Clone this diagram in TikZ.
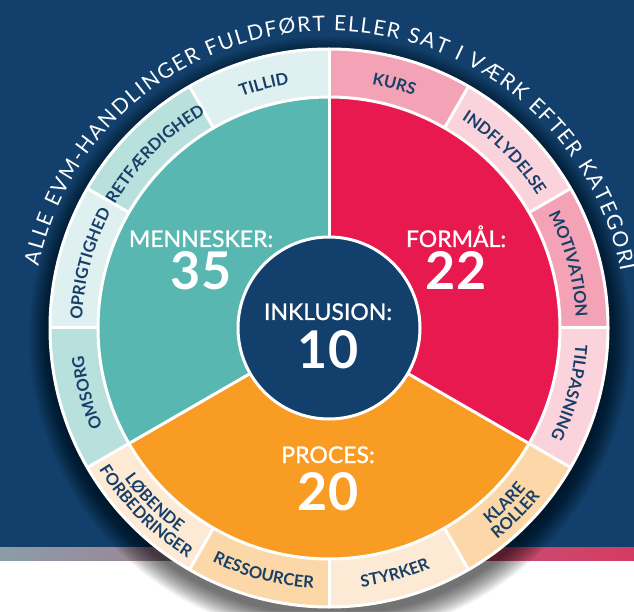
\documentclass[tikz,border=0pt]{standalone}
\usepackage{fontspec}
\setmainfont{Lato}
\newfontfamily\latomed[FakeBold=1]{Lato}
\usetikzlibrary{decorations.text,calc}
\definecolor{navy}{HTML}{123F6B}
\definecolor{barL}{HTML}{8A9DA7}
\definecolor{barR}{HTML}{D63A62}
\definecolor{tealM}{HTML}{58B7B1}
\definecolor{redM}{HTML}{E8194F}
\definecolor{orgM}{HTML}{F89C24}
\definecolor{tlA}{HTML}{DEF0EF}
\definecolor{tlB}{HTML}{B8E1DE}
\definecolor{pkA}{HTML}{F4A3B7}
\definecolor{pkB}{HTML}{FBD3DD}
\definecolor{pcA}{HTML}{FDEAD4}
\definecolor{pcB}{HTML}{FCD8A8}
\definecolor{lbl}{HTML}{173F68}
\newcommand\ringfont{\fontsize{16.5}{19}\selectfont\bfseries}
\newcommand\titlefont{\fontsize{21}{24}\selectfont}
\newcommand\ringcw[3]{\path[decorate,decoration={text along path,text={|\ringfont|#3},text align=center,text color=lbl}] ($(C)+({#1+25}:#2pt)$) arc[start angle={#1+25},end angle={#1-25},radius=#2pt];}
\newcommand\ringccw[3]{\path[decorate,decoration={text along path,text={|\ringfont|#3},text align=center,text color=lbl}] ($(C)+({#1-25}:#2pt)$) arc[start angle={#1-25},end angle={#1+25},radius=#2pt];}
\tikzset{
  cat/.style={text=white,anchor=base,inner sep=0pt,font=\latomed\fontsize{23}{26}\selectfont},
  num/.style={text=white,anchor=base,inner sep=0pt,font=\fontsize{52}{56}\selectfont\bfseries},
  sep/.style={white,line width=3pt}
}
\begin{document}
\begin{tikzpicture}[x=1pt,y=1pt]
\useasboundingbox (0,0) rectangle (634,611);
\fill[white] (0,0) rectangle (634,611);
\fill[navy] (0,64) rectangle (634,611);
\shade[left color=barL,right color=barR] (0,51) rectangle (634,64);
\coordinate (C) at (329,283);
% shadow
\foreach \i in {0,...,22}
  \fill[black,opacity=0.03] ($(C)+(1pt,-9pt)$) circle[radius={(279+\i)*1pt}];
% ring sectors
\foreach \a/\c in {90/tlA,120/tlB,150/tlA,180/tlB,60/pkA,30/pkB,0/pkA,-30/pkB,210/pcA,240/pcB,270/pcA,300/pcB}
  \fill[\c] (C) -- ($(C)+(\a:279pt)$) arc[start angle=\a,delta angle=30,radius=279pt] -- cycle;
% inner sectors
\fill[tealM] (C) -- ($(C)+(90:231pt)$) arc[start angle=90,end angle=210,radius=231pt] -- cycle;
\fill[redM] (C) -- ($(C)+(-30:231pt)$) arc[start angle=-30,end angle=90,radius=231pt] -- cycle;
\fill[orgM] (C) -- ($(C)+(210:231pt)$) arc[start angle=210,end angle=330,radius=231pt] -- cycle;
\fill[navy] (C) circle[radius=91pt];
% separators
\foreach \a in {0,30,...,330}
  \draw[sep] ($(C)+(\a:231pt)$) -- ($(C)+(\a:279pt)$);
\foreach \a in {90,210,330}
  \draw[sep] ($(C)+(\a:91pt)$) -- ($(C)+(\a:231pt)$);
\draw[sep] (C) circle[radius=231pt];
\draw[sep] (C) circle[radius=91pt];
\draw[sep] (C) circle[radius=279pt];
% ring labels
\ringcw{105}{247}{TILLID}
\ringcw{135}{247}{RETFÆRDIGHED}
\ringcw{165}{247}{OPRIGTIGHED}
\ringcw{195}{247}{OMSORG}
\ringcw{75}{247}{KURS}
\ringcw{45}{247}{INDFLYDELSE}
\ringcw{15}{247}{MOTIVATION}
\ringcw{-15}{247}{TILPASNING}
\ringccw{255}{261}{RESSOURCER}
\ringccw{285}{261}{STYRKER}
\ringccw{315}{254}{KLARE}
\ringccw{315}{270}{ROLLER}
\ringccw{225}{254}{LØBENDE}
\ringccw{225}{270}{FORBEDRINGER}
% title
\path[decorate,decoration={text along path,text={|\titlefont|ALLE EVM-HANDLINGER FULDFØRT ELLER SAT I VÆRK EFTER KATEGORI},text align={fit to path},text color=white}] ($(C)+(168:297pt)$) arc[start angle=168,end angle=11,radius=297pt];
% main labels
\node[cat] (menL) at (201,364) {MENNESKER:};
\node[num] (menN) at (201,321) {35};
\node[cat] (forL) at (456,364) {FORMÅL:};
\node[num] (forN) at (456,321) {22};
\node[cat] (inkL) at (328,291) {INKLUSION:};
\node[num] (inkN) at (328,243) {10};
\node[cat] (proL) at (328,148) {PROCES:};
\node[num] (proN) at (328,101) {20};
\end{tikzpicture}
\end{document}
